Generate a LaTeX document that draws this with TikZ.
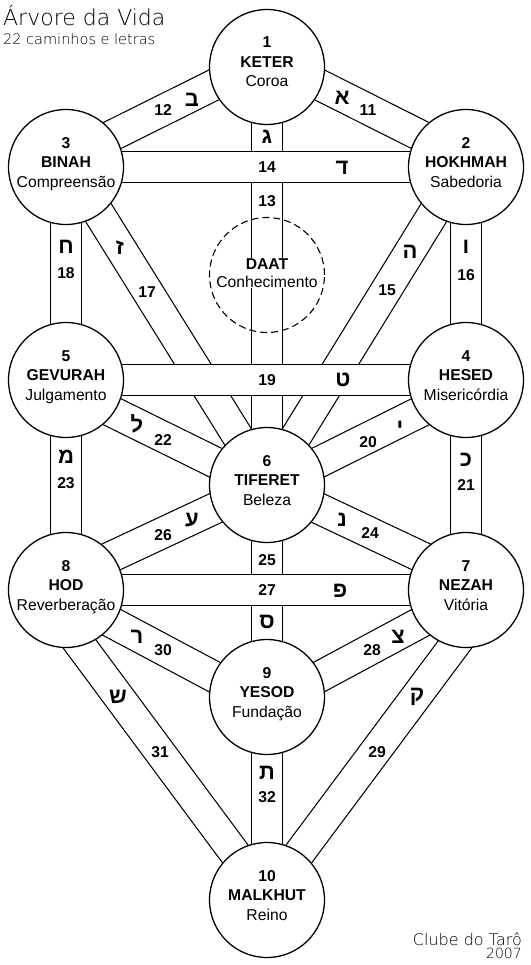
\documentclass[tikz,border=0pt]{standalone}
\usepackage{fontspec}
\setmainfont{Liberation Sans}
\newfontfamily\hebfont[Script=Hebrew]{Liberation Sans}
\IfFontExistsTF{DejaVu Sans ExtraLight}{\newfontfamily\handfont{DejaVu Sans ExtraLight}}{\newfontfamily\handfont{DejaVu Sans}}
\pgfdeclarelayer{paths}
\pgfdeclarelayer{crossing}
\pgfsetlayers{paths,crossing,main}
\tikzset{
  sefira/.style={circle, draw, line width=1.3pt, fill=white, minimum size=115pt, inner sep=0pt},
  sefname/.style={align=center, anchor=north, inner sep=0pt, font=\fontsize{15.7}{19.5}\selectfont},
  pathband/.style={line width=1.2pt, double=white, double distance=29.8pt},
  num/.style={inner sep=0pt, font=\fontsize{15.7}{18}\selectfont\bfseries},
  letter/.style={inner sep=0pt, font=\hebfont\fontsize{22}{24}\selectfont\bfseries}
}
\newcommand{\sefira}[5]{%
  \node (#1) [sefira] at (#2) {};
  \node (#1-txt) [sefname] at ([yshift=30pt]#1.center) {\textbf{#3}\\\textbf{#4}\\#5};
}
\begin{document}
\begin{tikzpicture}[x=1pt,y=-1pt]
\useasboundingbox (0,0) rectangle (530,965);

\node (title) [anchor=base west, inner sep=0pt, font=\handfont\fontsize{22}{24}\selectfont] at (3,26) {Árvore da Vida};
\node (subtitle) [anchor=base west, inner sep=0pt, font=\handfont\fontsize{14.5}{16}\selectfont] at (3,45) {22 caminhos e letras};
\node (club) [anchor=base east, inner sep=0pt, font=\handfont\fontsize{16}{17}\selectfont] at (522,945) {Clube do Tarô};
\node (year) [anchor=base east, inner sep=0pt, font=\handfont\fontsize{14}{15}\selectfont] at (522,958) {2007};

\sefira{keter}{267,67}{1}{KETER}{Coroa}
\sefira{hokhmah}{466,167}{2}{HOKHMAH}{Sabedoria}
\sefira{binah}{66,167}{3}{BINAH}{Compreensão}
\sefira{hesed}{466,380}{4}{HESED}{Misericórdia}
\sefira{gevurah}{66,380}{5}{GEVURAH}{Julgamento}
\sefira{tiferet}{267,485}{6}{TIFERET}{Beleza}
\sefira{nezah}{466,590}{7}{NEZAH}{Vitória}
\sefira{hod}{66,590}{8}{HOD}{Reverberação}
\sefira{yesod}{267,697}{9}{YESOD}{Fundação}
\sefira{malkhut}{267,900}{10}{MALKHUT}{Reino}

\node (daat-txt) [align=center, fill=white, inner sep=1pt, font=\fontsize{15.7}{17.5}\selectfont] at (267,273) {\textbf{DAAT}\\Conhecimento};
\node (daat) [circle, draw, line width=1.1pt, dash pattern=on 7pt off 4pt, minimum size=115pt] at (267,275) {};

\begin{pgfonlayer}{paths}
\foreach \a/\b in {keter/tiferet, hokhmah/hesed, binah/gevurah,
  hesed/nezah, gevurah/hod, tiferet/yesod, yesod/malkhut}
  \draw [pathband] (\a.center) -- (\b.center);
\draw [pathband] ([xshift=4pt]binah.center) -- ([xshift=1pt]tiferet.center);
\draw [pathband] ([xshift=-4pt]hokhmah.center) -- ([xshift=-1pt]tiferet.center);
\draw [pathband] ([yshift=8.5pt]keter.center) -- ([yshift=8.5pt]hokhmah.center);
\draw [pathband] ([yshift=8.5pt]keter.center) -- ([yshift=8.5pt]binah.center);
\draw [pathband] ([yshift=-9pt]hesed.center) -- ([yshift=-3pt]tiferet.center);
\draw [pathband] ([yshift=-9pt]gevurah.center) -- ([yshift=-3pt]tiferet.center);
\draw [pathband] ([yshift=12pt]nezah.center) -- ([yshift=1pt]tiferet.center);
\draw [pathband] ([yshift=12pt]hod.center) -- ([yshift=1pt]tiferet.center);
\draw [pathband] ([yshift=-8pt]nezah.center) -- ([yshift=-8pt]yesod.center);
\draw [pathband] ([yshift=-8pt]hod.center) -- ([yshift=-8pt]yesod.center);
\draw [pathband] ([xshift=29.5pt]nezah.center) -- ([xshift=-2.5pt]malkhut.center);
\draw [pathband] ([xshift=-26.5pt]hod.center) -- ([xshift=2.5pt]malkhut.center);
\end{pgfonlayer}

\begin{pgfonlayer}{crossing}
\draw [pathband] (binah.center) -- (hokhmah.center);
\draw [pathband] (gevurah.center) -- (hesed.center);
\draw [pathband] (hod.center) -- (nezah.center);
\end{pgfonlayer}

\foreach \n/\p in {11/{368,110}, 12/{163,110}, 13/{267,201}, 14/{267,167}, 15/{387,290},
  16/{466,275}, 17/{147,292}, 18/{66,273}, 19/{267,380}, 20/{368,442}, 21/{466,485},
  22/{163,440}, 23/{66,483}, 24/{370,533}, 25/{267,560}, 26/{163,535}, 27/{267,590},
  28/{372,650}, 29/{377,752}, 30/{163,650}, 31/{160,752}, 32/{267,797}}
  \node (n\n) [num] at (\p) {\n};

\foreach \n/\l/\p in {11/א/{342,98}, 12/ב/{192,100}, 13/ג/{267,137}, 14/ד/{342,168},
  15/ה/{410,252}, 16/ו/{466,247}, 17/ז/{120,248}, 18/ח/{66,247}, 19/ט/{343,380},
  20/י/{400,428}, 21/כ/{466,460}, 22/ל/{137,424}, 23/מ/{66,457}, 24/נ/{342,520},
  25/ס/{267,622}, 26/ע/{192,520}, 27/פ/{340,591}, 28/צ/{398,637}, 29/ק/{417,697},
  30/ר/{137,637}, 31/ש/{118,697}, 32/ת/{267,773}}
  \node (l\n) [letter] at (\p) {\l};
\end{tikzpicture}
\end{document}
